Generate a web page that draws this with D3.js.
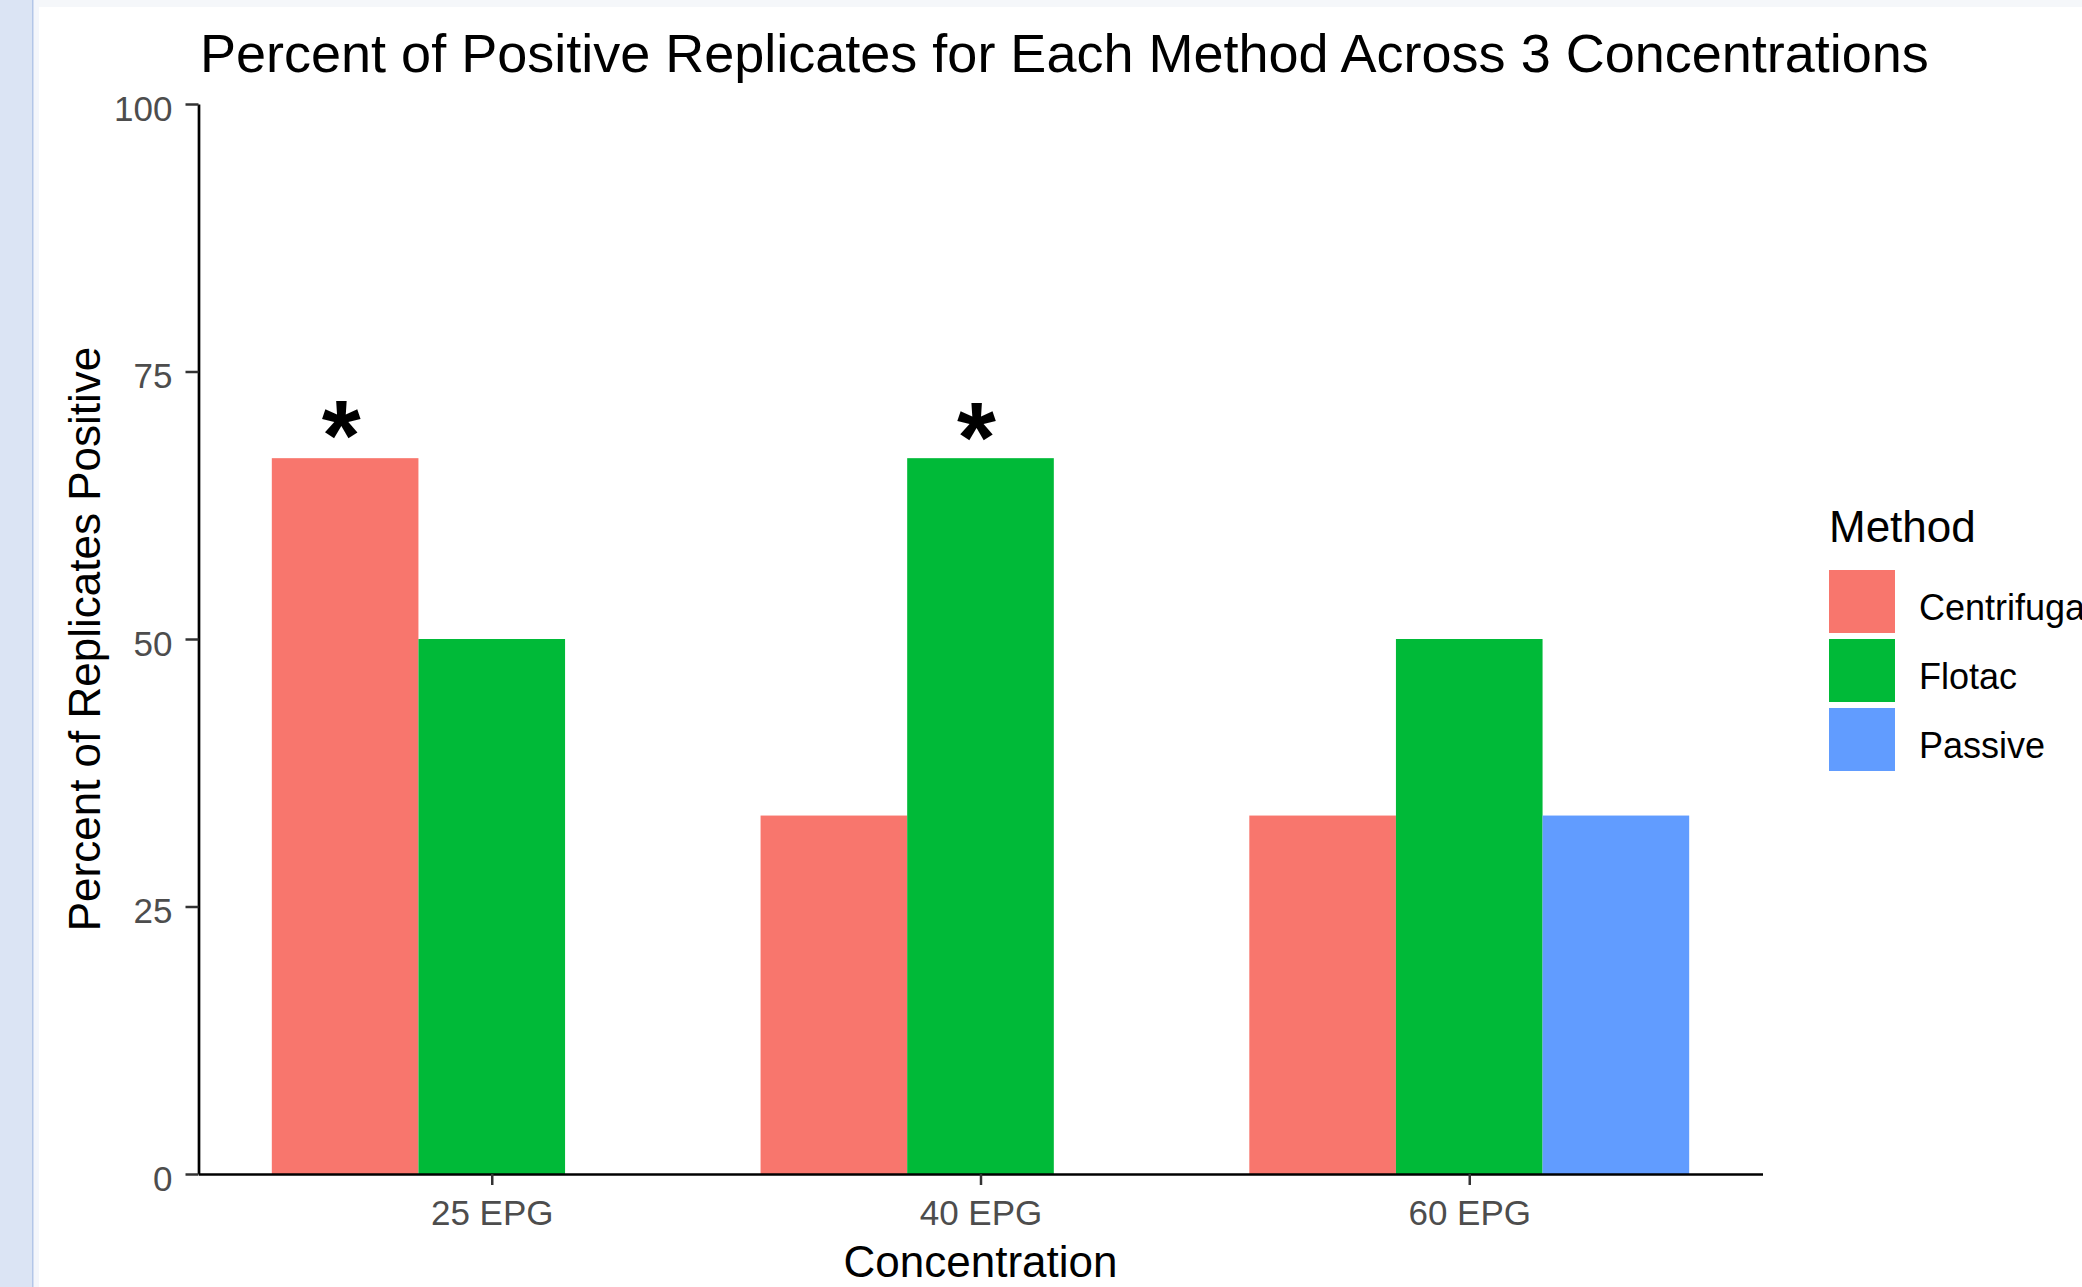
<!DOCTYPE html>
<html>
<head>
<meta charset="utf-8">
<script src="https://cdn.jsdelivr.net/npm/d3@7"></script>
<style>
  html, body { margin: 0; padding: 0; background: #ffffff; }
  svg { display: block; }
  text { font-family: "Liberation Sans", Arial, sans-serif; }
</style>
</head>
<body>
<svg id="chart" width="2082" height="1287"></svg>
<script>
// ---- data ----
const categories = ["25 EPG", "40 EPG", "60 EPG"];
const methods = ["Centrifugation", "Flotac", "Passive"];
const centrifugationValues = [66.9, 33.5, 33.5];
const flotacValues = [50, 66.9, 50];
const passiveValues = [0, 0, 33.5];
const yTickValues = [0, 25, 50, 75, 100];
const methodColors = ["#F8766D", "#00BA38", "#619CFF"];
const annotations = [
  { category: "25 EPG", method: "Centrifugation", y: 70.5, label: "*" },
  { category: "40 EPG", method: "Flotac", y: 70.3, label: "*" }
];
const titleText = "Percent of Positive Replicates for Each Method Across 3 Concentrations";
const xTitle = "Concentration";
const yTitle = "Percent of Replicates Positive";
const legendTitle = "Method";

const seriesValues = [centrifugationValues, flotacValues, passiveValues];
const rows = [];
methods.forEach((m, mi) => categories.forEach((c, ci) => rows.push({ method: m, category: c, value: seriesValues[mi][ci] })));

// ---- layout ----
const svg = d3.select("#chart");
const panel = { left: 198.5, right: 1762.5, top: 104, bottom: 1174 };

// page chrome (RStudio-like frame)
svg.append("rect").attr("x", 0).attr("y", 0).attr("width", 2082).attr("height", 1287).attr("fill", "#ffffff");
svg.append("rect").attr("x", 33).attr("y", 0).attr("width", 2049).attr("height", 7).attr("fill", "#f5f7fa");
svg.append("rect").attr("x", 33).attr("y", 0).attr("width", 6).attr("height", 1287).attr("fill", "#f4f6fb");
svg.append("rect").attr("x", 0).attr("y", 0).attr("width", 32).attr("height", 1287).attr("fill", "#dbe4f4");
svg.append("rect").attr("x", 32).attr("y", 0).attr("width", 1.5).attr("height", 1287).attr("fill", "#b3c6e8");

const x = d3.scalePoint().domain(categories).range([panel.left, panel.right]).padding(0.6);
const step = x.step();
const xDodge = d3.scaleBand().domain(methods).range([-0.45 * step, 0.45 * step]).padding(0);
const y = d3.scaleLinear().domain([0, 100]).range([panel.bottom, panel.top]);
const color = d3.scaleOrdinal().domain(methods).range(methodColors);

// bars
svg.append("g").selectAll("rect").data(rows).join("rect")
  .attr("x", d => x(d.category) + xDodge(d.method))
  .attr("width", xDodge.bandwidth())
  .attr("y", d => y(d.value))
  .attr("height", d => y(0) - y(d.value))
  .attr("fill", d => color(d.method));

// annotations (asterisks)
const annFont = "bold 100px 'Liberation Sans'";
const ctx = document.createElement("canvas").getContext("2d");
ctx.font = annFont;
const m = ctx.measureText("*");
const glyphShift = (m.actualBoundingBoxAscent - m.actualBoundingBoxDescent) / 2;
svg.append("g").selectAll("text").data(annotations).join("text")
  .attr("x", d => x(d.category) + xDodge(d.method) + xDodge.bandwidth() / 2)
  .attr("dx", -4)
  .attr("y", d => y(d.y) + glyphShift)
  .attr("text-anchor", "middle")
  .attr("font-weight", "bold")
  .attr("font-size", 100)
  .attr("fill", "#000000")
  .text(d => d.label);

// y axis
const yAxis = svg.append("g").attr("transform", `translate(${panel.left},0)`)
  .call(d3.axisLeft(y).tickValues(yTickValues).tickSize(13).tickSizeOuter(0).tickPadding(13));
yAxis.select(".domain").attr("stroke", "#000").attr("stroke-width", 2.7);
yAxis.selectAll(".tick line").attr("stroke", "#333333").attr("stroke-width", 2.5);
yAxis.selectAll(".tick text").attr("fill", "#4D4D4D").attr("font-size", 35)
  .attr("font-family", "Liberation Sans").attr("dy", "0.46em");

// x axis
const xAxis = svg.append("g").attr("transform", `translate(0,${panel.bottom})`)
  .call(d3.axisBottom(x).tickSize(11).tickSizeOuter(0).tickPadding(15));
xAxis.select(".domain").attr("stroke", "#000").attr("stroke-width", 2.7);
xAxis.selectAll(".tick line").attr("stroke", "#333333").attr("stroke-width", 2.5);
xAxis.selectAll(".tick text").attr("fill", "#4D4D4D").attr("font-size", 35)
  .attr("font-family", "Liberation Sans").attr("dy", "0.71em");

// titles
svg.append("text").attr("x", 200).attr("y", 72).attr("font-size", 54).attr("fill", "#000").text(titleText);
svg.append("text").attr("x", (panel.left + panel.right) / 2).attr("y", 1277)
  .attr("text-anchor", "middle").attr("font-size", 44).attr("fill", "#000").text(xTitle);
svg.append("text").attr("transform", `translate(100,${(panel.top + panel.bottom) / 2}) rotate(-90)`)
  .attr("text-anchor", "middle").attr("font-size", 44).attr("fill", "#000").text(yTitle);

// legend
const legend = svg.append("g").attr("transform", "translate(1829,0)");
legend.append("text").attr("x", 0).attr("y", 542).attr("font-size", 44).attr("fill", "#000").text(legendTitle);
const keyY = d3.scaleBand().domain(methods).range([570, 771]).paddingInner(0.087).paddingOuter(0);
const items = legend.selectAll("g.item").data(methods).join("g").attr("class", "item");
items.append("rect").attr("x", 0).attr("y", d => keyY(d)).attr("width", 66).attr("height", keyY.bandwidth())
  .attr("fill", d => color(d));
items.append("text").attr("x", 90).attr("y", d => keyY(d) + keyY.bandwidth() / 2 + 18.5)
  .attr("font-size", 36).attr("fill", "#000").text(d => d);
</script>
</body>
</html>
